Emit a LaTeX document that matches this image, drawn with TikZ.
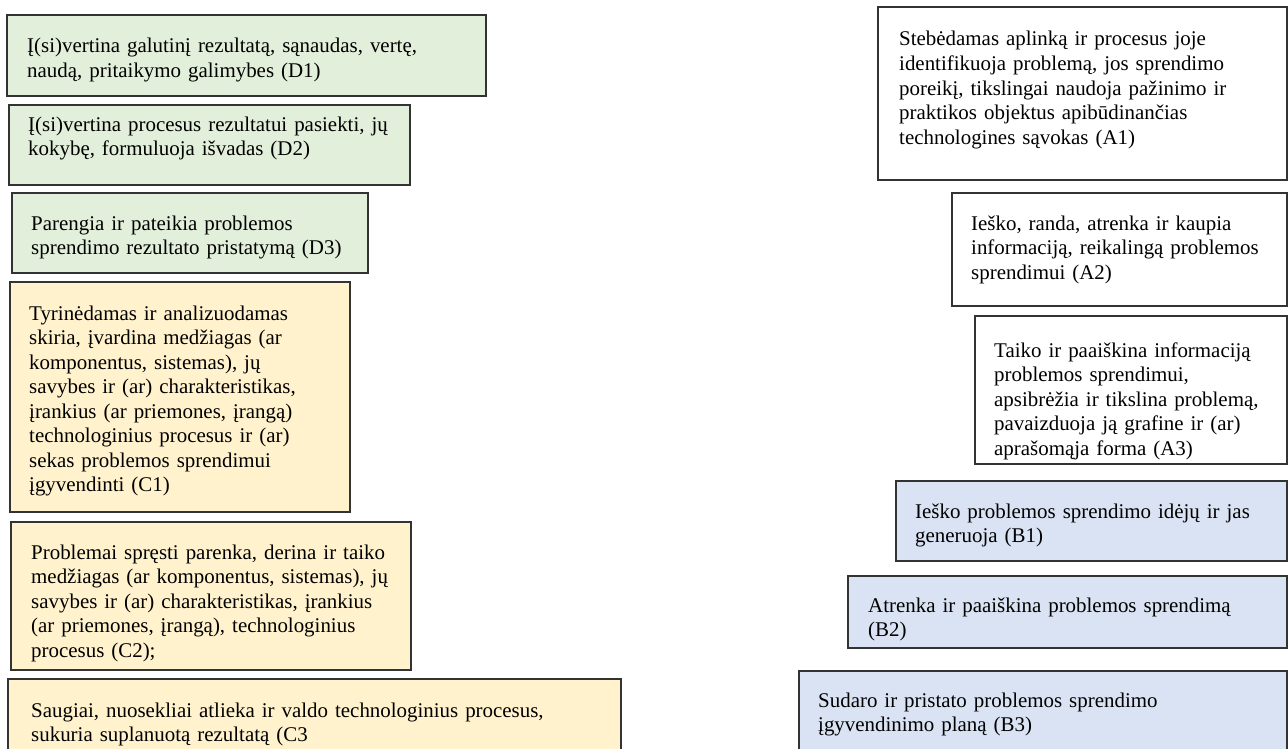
\documentclass[tikz,border=0pt]{standalone}
\usepackage{fontspec}
\setmainfont{Liberation Serif}

\definecolor{dgreen}{HTML}{E2EFDA}
\definecolor{cyellow}{HTML}{FFF2CC}
\definecolor{bblue}{HTML}{DAE3F3}

\begin{document}
\begin{tikzpicture}[x=1bp,y=-1bp,
  frame/.style={draw=black!80,line width=1.2bp},
  dbox/.style={frame,fill=dgreen},
  cbox/.style={frame,fill=cyellow},
  abox/.style={frame,fill=white},
  bbox/.style={frame,fill=bblue},
  txt/.style={anchor=base west,align=left,inner sep=0pt,text width=620bp,
    font=\fontsize{21}{24.6}\selectfont}]

\useasboundingbox (0,0) rectangle (1288,749);

% 左侧 D 组（绿色）
\filldraw[dbox] (7,15) rectangle (486,96);
\node[txt] (d1) at (27,53) {Į(si)vertina galutinį rezultatą, sąnaudas, vertę,\\
  naudą, pritaikymo galimybes (D1)};

\filldraw[dbox] (9,105) rectangle (410,185);
\node[txt] (d2) at (28,131) {Į(si)vertina procesus rezultatui pasiekti, jų\\
  kokybę, formuluoja išvadas (D2)};

\filldraw[dbox] (12,193) rectangle (368,273);
\node[txt] (d3) at (31,230) {Parengia ir pateikia problemos\\
  sprendimo rezultato pristatymą (D3)};

% 左侧 C 组（黄色）
\filldraw[cbox] (10,282) rectangle (350,512);
\node[txt] (c1) at (29,320) {Tyrinėdamas ir analizuodamas\\
  skiria, įvardina medžiagas (ar\\
  komponentus, sistemas), jų\\
  savybes ir (ar) charakteristikas,\\
  įrankius (ar priemones, įrangą)\\
  technologinius procesus ir (ar)\\
  sekas problemos sprendimui\\
  įgyvendinti (C1)};

\filldraw[cbox] (11,522) rectangle (411,670);
\node[txt] (c2) at (31,559) {Problemai spręsti parenka, derina ir taiko\\
  medžiagas (ar komponentus, sistemas), jų\\
  savybes ir (ar) charakteristikas, įrankius\\
  (ar priemones, įrangą), technologinius\\
  procesus (C2);};

\filldraw[cbox] (8,679) rectangle (621,760);
\node[txt] (c3) at (31,717) {Saugiai, nuosekliai atlieka ir valdo technologinius procesus,\\
  sukuria suplanuotą rezultatą (C3};

% 右侧 A 组（白色）
\filldraw[abox] (878,7) rectangle (1287,180);
\node[txt] (a1) at (899,46) {Stebėdamas aplinką ir procesus joje\\
  identifikuoja problemą, jos sprendimo\\
  poreikį, tikslingai naudoja pažinimo ir\\
  praktikos objektus apibūdinančias\\
  technologines sąvokas (A1)};

\filldraw[abox] (952,193) rectangle (1287,306);
\node[txt] (a2) at (971,230) {Ieško, randa, atrenka ir kaupia\\
  informaciją, reikalingą problemos\\
  sprendimui (A2)};

\filldraw[abox] (975,316) rectangle (1287,464);
\node[txt] (a3) at (994,357) {Taiko ir paaiškina informaciją\\
  problemos sprendimui,\\
  apsibrėžia ir tikslina problemą,\\
  pavaizduoja ją grafine ir (ar)\\
  aprašomąja forma (A3)};

% 右侧 B 组（蓝色）
\filldraw[bbox] (896,481) rectangle (1287,561);
\node[txt] (b1) at (915,518) {Ieško problemos sprendimo idėjų ir jas\\
  generuoja (B1)};

\filldraw[bbox] (848,576) rectangle (1287,648);
\node[txt] (b2) at (868,612) {Atrenka ir paaiškina problemos sprendimą\\
  (B2)};

\filldraw[bbox] (799,671) rectangle (1287,760);
\node[txt] (b3) at (818,707) {Sudaro ir pristato problemos sprendimo\\
  įgyvendinimo planą (B3)};

\end{tikzpicture}
\end{document}
